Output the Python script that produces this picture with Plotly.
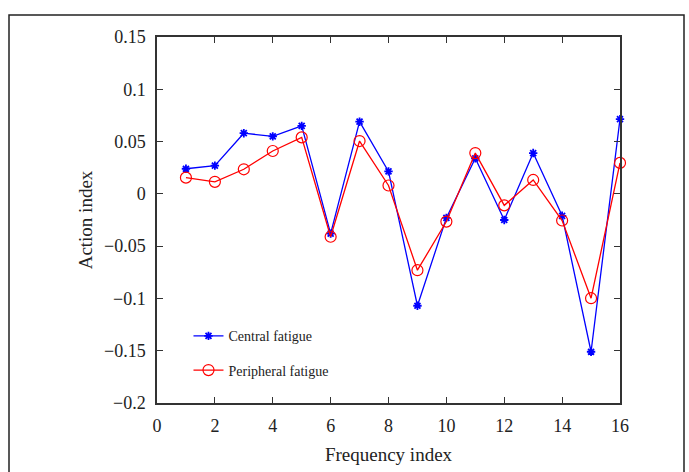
import plotly.graph_objects as go

freq = list(range(1, 17))
central = [0.024, 0.027, 0.058, 0.055, 0.065, -0.038, 0.069, 0.0215, -0.107, -0.023,
           0.034, -0.025, 0.039, -0.021, -0.151, 0.0715]
peripheral = [0.0155, 0.0115, 0.0235, 0.041, 0.054, -0.041, 0.0505, 0.008, -0.073, -0.0265,
              0.039, -0.011, 0.0133, -0.0255, -0.0998, 0.0296]
x_ticks = [0, 2, 4, 6, 8, 10, 12, 14, 16]
y_ticks = [-0.2, -0.15, -0.1, -0.05, 0, 0.05, 0.1, 0.15]
y_labels = ["\u22120.2", "\u22120.15", "\u22120.1", "\u22120.05", "0", "0.05", "0.1", "0.15"]

FONT = "Liberation Serif"
AX = "#333333"

fig = go.Figure()
fig.add_trace(go.Scatter(
    x=freq, y=central, mode="lines+markers", name="Central fatigue", legendgroup="a",
    cliponaxis=False,
    line=dict(color="#0000ff", width=1.3),
    marker=dict(symbol="asterisk-open", size=7, color="#0000ff", line=dict(color="#0000ff", width=1.8)),
))
fig.add_trace(go.Scatter(
    x=freq, y=peripheral, mode="lines+markers", name="Peripheral fatigue", legendgroup="b",
    cliponaxis=False,
    line=dict(color="#ff0000", width=1.3),
    marker=dict(symbol="circle-open", size=11, color="#ff0000", line=dict(color="#ff0000", width=1.2)),
))

axis_common = dict(
    showline=True, linecolor=AX, linewidth=1.5, mirror="ticks",
    ticks="inside", ticklen=6, tickcolor=AX, tickwidth=1.2,
    showgrid=False, zeroline=False, automargin=False,
    tickfont=dict(family=FONT, size=18, color="#222222"),
    title_font=dict(family=FONT, size=19, color="#222222"),
)

fig.update_xaxes(range=[0, 16], tickvals=x_ticks, title_text="Frequency index",
                 title_standoff=12, ticklabelstandoff=6, **axis_common)
fig.update_yaxes(range=[-0.2, 0.15], tickvals=y_ticks, ticktext=y_labels,
                 title_text="Action index", title_standoff=6, ticklabelstandoff=6, **axis_common)

fig.add_shape(type="rect", xref="paper", yref="paper",
              x0=(9 - 157) / 463, x1=(684 - 157) / 463,
              y0=(403 - 490) / 366, y1=(403 - 15) / 366,
              line=dict(color="#222222", width=1.5), layer="below")

fig.update_layout(
    width=689, height=472,
    margin=dict(l=157, r=69, t=37, b=69),
    paper_bgcolor="white", plot_bgcolor="white",
    showlegend=True,
    legend=dict(x=0.068, y=0.226, xanchor="left", yanchor="top",
                bgcolor="rgba(0,0,0,0)", tracegroupgap=13,
                font=dict(family=FONT, size=14, color="#222222")),
)

fig.write_html("out.html", config={"displayModeBar": False},
               post_script="document.body.style.margin='0';document.body.style.overflow='hidden';")
